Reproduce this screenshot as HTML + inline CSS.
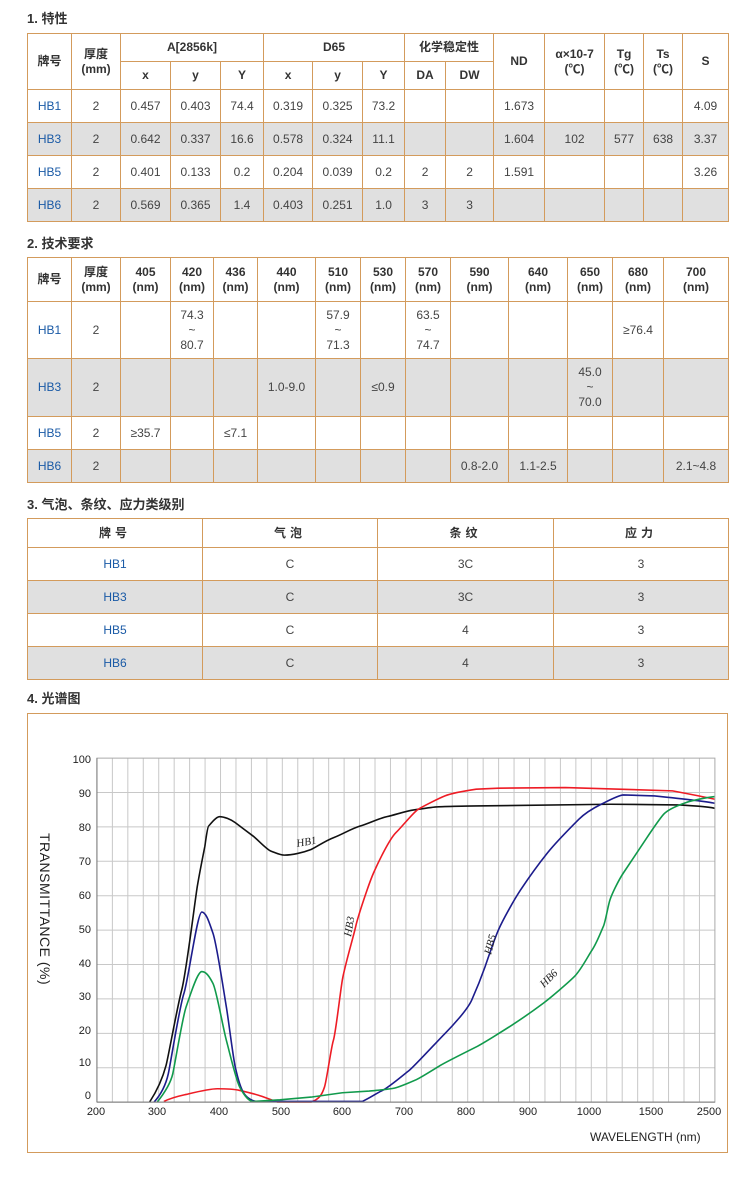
<!DOCTYPE html>
<html><head><meta charset="utf-8">
<style>
*{margin:0;padding:0;box-sizing:border-box}
body{width:750px;height:1192px;background:#fff;position:relative;font-family:"Liberation Sans","Noto Sans CJK SC",sans-serif;font-size:12px;color:#444;overflow:hidden}
.h{position:absolute;left:27px;font-weight:bold;font-size:13px;color:#333}
table{position:absolute;left:27px;border-collapse:collapse;table-layout:fixed}
td,th{border:1px solid #d39b5c;text-align:center;vertical-align:middle;padding:0;line-height:15px}
th{font-weight:bold;color:#333}
.g td{background:#e0e0e0}
.b{color:#1a5aa6}
</style></head><body>
<div class="h" style="top:8px">1. 特性</div>
<table style="top:33px;width:701px">
<colgroup><col style="width:44px"><col style="width:49px"><col style="width:50px"><col style="width:50px"><col style="width:43px"><col style="width:49px"><col style="width:50px"><col style="width:42px"><col style="width:41px"><col style="width:48px"><col style="width:51px"><col style="width:60px"><col style="width:39px"><col style="width:39px"><col style="width:46px"></colgroup>
<tr style="height:28px"><th rowspan="2">牌号</th><th rowspan="2">厚度<br>(mm)</th><th colspan="3">A[2856k]</th><th colspan="3">D65</th><th colspan="2">化学稳定性</th><th rowspan="2">ND</th><th rowspan="2">α×10-7<br>(℃)</th><th rowspan="2">Tg<br>(℃)</th><th rowspan="2">Ts<br>(℃)</th><th rowspan="2">S</th></tr>
<tr style="height:28px"><th>x</th><th>y</th><th>Y</th><th>x</th><th>y</th><th>Y</th><th>DA</th><th>DW</th></tr>
<tr style="height:33px"><td class="b">HB1</td><td>2</td><td>0.457</td><td>0.403</td><td>74.4</td><td>0.319</td><td>0.325</td><td>73.2</td><td></td><td></td><td>1.673</td><td></td><td></td><td></td><td>4.09</td></tr>
<tr class="g" style="height:33px"><td class="b">HB3</td><td>2</td><td>0.642</td><td>0.337</td><td>16.6</td><td>0.578</td><td>0.324</td><td>11.1</td><td></td><td></td><td>1.604</td><td>102</td><td>577</td><td>638</td><td>3.37</td></tr>
<tr style="height:33px"><td class="b">HB5</td><td>2</td><td>0.401</td><td>0.133</td><td>0.2</td><td>0.204</td><td>0.039</td><td>0.2</td><td>2</td><td>2</td><td>1.591</td><td></td><td></td><td></td><td>3.26</td></tr>
<tr class="g" style="height:33px"><td class="b">HB6</td><td>2</td><td>0.569</td><td>0.365</td><td>1.4</td><td>0.403</td><td>0.251</td><td>1.0</td><td>3</td><td>3</td><td></td><td></td><td></td><td></td><td></td></tr>
</table>

<div class="h" style="top:233px">2. 技术要求</div>
<table style="top:257px;width:701px">
<colgroup><col style="width:44px"><col style="width:49px"><col style="width:50px"><col style="width:43px"><col style="width:44px"><col style="width:58px"><col style="width:45px"><col style="width:45px"><col style="width:45px"><col style="width:58px"><col style="width:59px"><col style="width:45px"><col style="width:51px"><col style="width:65px"></colgroup>
<tr style="height:44px"><th>牌号</th><th>厚度<br>(mm)</th><th>405<br>(nm)</th><th>420<br>(nm)</th><th>436<br>(nm)</th><th>440<br>(nm)</th><th>510<br>(nm)</th><th>530<br>(nm)</th><th>570<br>(nm)</th><th>590<br>(nm)</th><th>640<br>(nm)</th><th>650<br>(nm)</th><th>680<br>(nm)</th><th>700<br>(nm)</th></tr>
<tr style="height:57px"><td class="b">HB1</td><td>2</td><td></td><td>74.3<br>~<br>80.7</td><td></td><td></td><td>57.9<br>~<br>71.3</td><td></td><td>63.5<br>~<br>74.7</td><td></td><td></td><td></td><td>≥76.4</td><td></td></tr>
<tr class="g" style="height:58px"><td class="b">HB3</td><td>2</td><td></td><td></td><td></td><td>1.0-9.0</td><td></td><td>≤0.9</td><td></td><td></td><td></td><td>45.0<br>~<br>70.0</td><td></td><td></td></tr>
<tr style="height:33px"><td class="b">HB5</td><td>2</td><td>≥35.7</td><td></td><td>≤7.1</td><td></td><td></td><td></td><td></td><td></td><td></td><td></td><td></td><td></td></tr>
<tr class="g" style="height:33px"><td class="b">HB6</td><td>2</td><td></td><td></td><td></td><td></td><td></td><td></td><td></td><td>0.8-2.0</td><td>1.1-2.5</td><td></td><td></td><td>2.1~4.8</td></tr>
</table>

<div class="h" style="top:494px">3. 气泡、条纹、应力类级别</div>
<table style="top:518px;width:701px">
<colgroup><col style="width:175px"><col style="width:175px"><col style="width:176px"><col style="width:175px"></colgroup>
<tr style="height:29px"><th style="letter-spacing:4px">牌号</th><th style="letter-spacing:4px">气泡</th><th style="letter-spacing:4px">条纹</th><th style="letter-spacing:4px">应力</th></tr>
<tr style="height:33px"><td class="b">HB1</td><td>C</td><td>3C</td><td>3</td></tr>
<tr class="g" style="height:33px"><td class="b">HB3</td><td>C</td><td>3C</td><td>3</td></tr>
<tr style="height:33px"><td class="b">HB5</td><td>C</td><td>4</td><td>3</td></tr>
<tr class="g" style="height:33px"><td class="b">HB6</td><td>C</td><td>4</td><td>3</td></tr>
</table>

<div class="h" style="top:688px">4. 光谱图</div>
<div style="position:absolute;left:27px;top:713px;width:701px;height:440px;border:1px solid #d39b5c"></div>

<svg style="position:absolute;left:30px;top:739px" width="696.5" height="415" viewBox="0 0 1561 1240" preserveAspectRatio="none">
<g stroke="#c8c8c8" stroke-width="1" fill="none" id="grid"></g>
<g fill="none" stroke-width="1.6" stroke-linejoin="round">
<path vector-effect="non-scaling-stroke" stroke="#111" d="M268,1085 C290,1040 300,1000 305,975 S330,800 340,750 S370,480 375,440 S392,320 392,320 S398,260 400,260 S415,232 425,232 S450,240 460,250 S490,280 500,290 S530,330 540,335 S560,347 570,347 S590,345 600,342 S620,335 630,330 S660,305 680,295 S720,268 740,260 S780,238 800,232 S840,216 860,212 S900,204 910,203 S980,200 1000,200 L1300,195 S1420,196 1450,197 S1520,203 1535,207"/>
<path vector-effect="non-scaling-stroke" stroke="#ee1c25" d="M300,1083 C320,1070 340,1065 350,1062 S400,1045 420,1045 S460,1047 470,1050 S510,1063 520,1068 L555,1085 L630,1085 C650,1075 655,1060 660,1040 S675,920 680,900 S695,760 700,720 S725,590 730,560 S760,430 770,400 S805,300 820,280 S860,218 870,210 S915,178 930,170 S985,153 1000,150 L1050,147 L1200,145 L1440,155 S1500,170 1535,180"/>
<path vector-effect="non-scaling-stroke" stroke="#1c1c8c" d="M278,1085 C295,1060 305,1030 310,1000 S335,800 345,760 S375,517 385,517 S402,550 410,580 S435,760 440,800 S455,950 460,980 S472,1045 480,1060 S500,1083 510,1083 L745,1083 C765,1070 775,1060 790,1050 S840,1000 850,990 S915,900 930,880 S980,810 990,780 S1012,710 1020,680 S1040,600 1050,570 S1085,480 1100,450 S1145,365 1160,340 S1215,260 1230,240 S1265,205 1280,195 S1320,167 1330,167 L1400,170 S1510,185 1535,192"/>
<path vector-effect="non-scaling-stroke" stroke="#119a4c" d="M285,1085 C300,1060 315,1030 320,1000 S342,830 350,800 S375,695 385,695 S402,710 410,730 S432,860 440,900 S462,1020 470,1040 S490,1083 500,1083 L560,1078 L630,1070 L700,1057 L760,1052 C790,1048 810,1046 820,1042 S860,1022 870,1015 S910,983 920,975 S985,930 1000,920 S1065,868 1080,855 S1135,805 1150,790 S1205,730 1220,710 S1250,650 1260,630 S1280,575 1285,560 S1295,500 1300,480 S1320,420 1330,400 S1370,320 1380,300 S1410,240 1420,225 S1455,197 1470,190 S1520,174 1535,172"/>
</g>
<rect x="150" y="57" width="1385" height="1028" fill="none" vector-effect="non-scaling-stroke" stroke="#aaa"/>
<line x1="150" y1="1085" x2="1535" y2="1085" stroke="#777" vector-effect="non-scaling-stroke"/>
<line x1="150" y1="57" x2="150" y2="1085" stroke="#777" vector-effect="non-scaling-stroke"/>
</svg>
<script>
var g=document.getElementById('grid'),s='';
for(var i=1;i<10;i++){var y=57+i*102.8;s+='<line x1="150" x2="1535" y1="'+y+'" y2="'+y+'" vector-effect="non-scaling-stroke"/>';}
for(var j=1;j<40;j++){var x=150+j*1385/40;s+='<line y1="57" y2="1085" x1="'+x+'" x2="'+x+'" vector-effect="non-scaling-stroke"/>';}
g.innerHTML=s;
</script>
<svg style="position:absolute;left:0;top:0" width="750" height="1192" font-family="Liberation Sans,sans-serif" font-size="11" fill="#222">
<g text-anchor="end">
<text x="91" y="763">100</text><text x="91" y="797">90</text><text x="91" y="831">80</text><text x="91" y="865">70</text><text x="91" y="899">60</text><text x="91" y="933">50</text><text x="91" y="967">40</text><text x="91" y="1000">30</text><text x="91" y="1034">20</text><text x="91" y="1066">10</text><text x="91" y="1099">0</text>
</g>
<g text-anchor="middle">
<text x="96" y="1115">200</text><text x="157" y="1115">300</text><text x="219" y="1115">400</text><text x="281" y="1115">500</text><text x="342" y="1115">600</text><text x="404" y="1115">700</text><text x="466" y="1115">800</text><text x="528" y="1115">900</text><text x="589" y="1115">1000</text><text x="651" y="1115">1500</text><text x="709" y="1115">2500</text>
</g>
<text x="590" y="1141" font-size="12">WAVELENGTH (nm)</text>
<text transform="translate(40,833) rotate(90)" font-size="14" letter-spacing="0.5">TRANSMITTANCE  (%)</text>
<g font-family="Liberation Serif,serif" font-style="italic" font-size="11">
<text transform="translate(297,847) rotate(-10)">HB1</text>
<text transform="translate(351,937) rotate(-80)">HB3</text>
<text transform="translate(491,955) rotate(-75)">HB5</text>
<text transform="translate(544,988) rotate(-45)">HB6</text>
</g>
</svg>
</body></html>
